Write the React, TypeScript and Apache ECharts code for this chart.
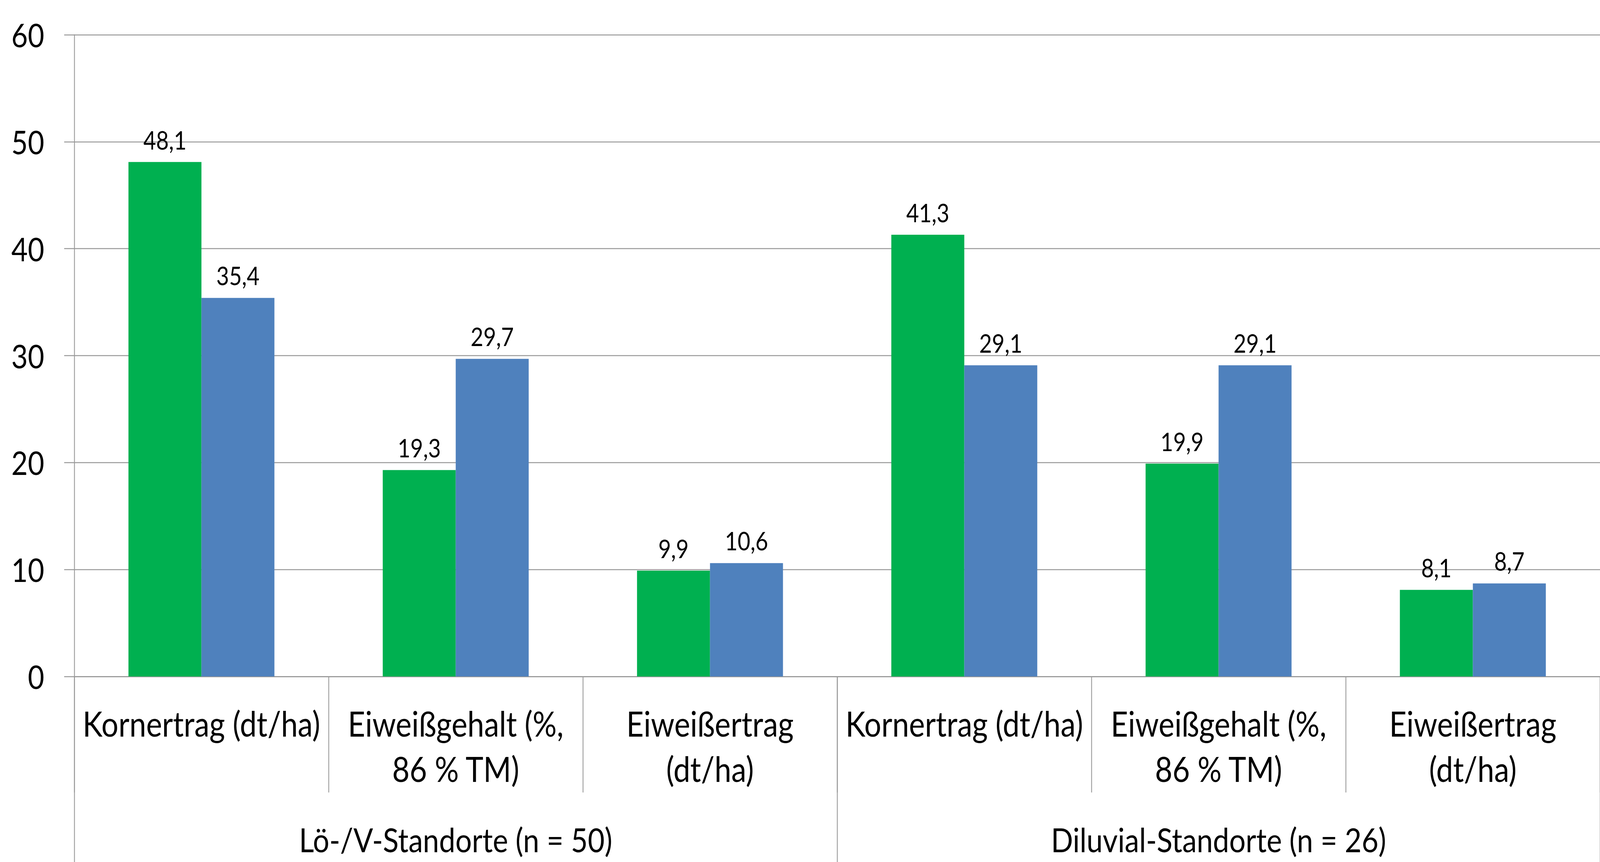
import React, { useEffect, useRef } from "react";
import * as echarts from "echarts";

const categories = [
  "Kornertrag (dt/ha)",
  "Eiweißgehalt (%,\n86 % TM)",
  "Eiweißertrag\n(dt/ha)",
  "Kornertrag (dt/ha)",
  "Eiweißgehalt (%,\n86 % TM)",
  "Eiweißertrag\n(dt/ha)",
];
const groups = ["Lö-/V-Standorte (n = 50)", "Diluvial-Standorte (n = 26)"];
const seriesGreen = [48.1, 19.3, 9.9, 41.3, 19.9, 8.1];
const seriesBlue = [35.4, 29.7, 10.6, 29.1, 29.1, 8.7];
const yTicks = { min: 0, max: 60, interval: 10 };

const FONT = "Lato";
const GRID = "#999999";
const REF_W = 4738;
const REF_H = 2207;

export default function App() {
  const ref = useRef<HTMLDivElement>(null);
  const sx = typeof window !== "undefined" ? Math.min(1, window.innerWidth / REF_W) : 1;
  useEffect(() => {
    if (!ref.current) return;
    document.body.style.overflow = "hidden";
    const chart = echarts.init(ref.current, null, { renderer: "svg" });
    const label = {
      show: true,
      position: "top",
      distance: 25,
      fontFamily: FONT,
      fontSize: 65,
      color: "#000",
      formatter: (p: any) => String(p.value).replace(".", ","),
    };
    chart.setOption({
      animation: false,
      backgroundColor: "#ffffff",
      grid: { left: 220, top: 89, width: 4576.5, bottom: 468, containLabel: false },
      xAxis: [
        {
          type: "category",
          data: categories,
          position: "bottom",
          axisLine: { show: true, lineStyle: { color: GRID, width: 2.5 } },
          axisTick: { show: true, interval: 0, length: 297, lineStyle: { color: GRID, width: 2.5 } },
          axisLabel: {
            interval: 0,
            fontFamily: FONT,
            fontSize: 89,
            lineHeight: 116,
            color: "#000",
            margin: 62,
            align: "center",
          },
        },
        {
          type: "category",
          data: groups,
          position: "bottom",
          axisLine: { show: false },
          axisTick: { show: true, interval: 0, length: 600, lineStyle: { color: GRID, width: 2.5 } },
          axisLabel: {
            interval: 0,
            fontFamily: FONT,
            fontSize: 86,
            lineHeight: 116,
            color: "#000",
            margin: 359,
          },
        },
      ],
      yAxis: {
        type: "value",
        min: yTicks.min,
        max: yTicks.max,
        interval: yTicks.interval,
        axisLine: { show: true, lineStyle: { color: GRID, width: 2.5 } },
        axisTick: { show: true, inside: false, length: 30, lineStyle: { color: GRID, width: 2.5 } },
        splitLine: { show: true, lineStyle: { color: GRID, width: 2.5 } },
        axisLabel: { fontFamily: FONT, fontSize: 84, color: "#000", margin: 89 },
      },
      series: [
        {
          name: "Grün",
          type: "bar",
          xAxisIndex: 0,
          data: seriesGreen,
          itemStyle: { color: "#00B050" },
          barGap: "0%",
          barCategoryGap: "42.6%",
          label,
        },
        {
          name: "Blau",
          type: "bar",
          xAxisIndex: 0,
          data: seriesBlue,
          itemStyle: { color: "#4F81BD" },
          barGap: "0%",
          barCategoryGap: "42.6%",
          label,
        },
      ],
    });
    return () => chart.dispose();
  }, []);
  return (
    <div
      ref={ref}
      style={{
        position: "fixed",
        left: 0,
        top: 0,
        width: REF_W,
        height: REF_H,
        background: "#fff",
        transform: `scaleX(${sx})`,
        transformOrigin: "0 0",
      }}
    />
  );
}
